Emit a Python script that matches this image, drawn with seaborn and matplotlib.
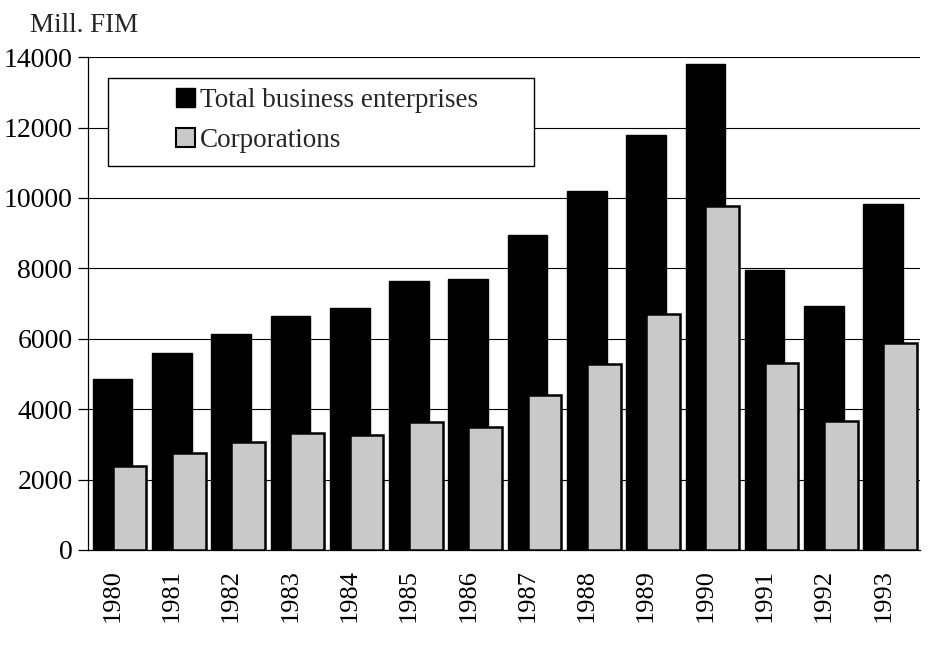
import numpy as np
import pandas as pd
import matplotlib
matplotlib.use("Agg")
import matplotlib.pyplot as plt
from matplotlib.patches import Rectangle, Patch
import seaborn as sns

years = ["1980", "1981", "1982", "1983", "1984", "1985", "1986",
         "1987", "1988", "1989", "1990", "1991", "1992", "1993"]
total_business = [4850, 5600, 6130, 6650, 6870, 7650, 7700,
                  8940, 10200, 11790, 13800, 7960, 6920, 9830]
corporations = [2370, 2750, 3060, 3330, 3260, 3640, 3490,
                4410, 5270, 6690, 9760, 5310, 3670, 5890]
y_ticks = [0, 2000, 4000, 6000, 8000, 10000, 12000, 14000]

sns.set_theme(style="white")
plt.rcParams["font.family"] = ["Liberation Serif", "DejaVu Serif"]

fig = plt.figure(figsize=(9.33, 6.5), dpi=100)
ax = fig.add_axes([0.094, 0.154, 0.892, 0.758])

idx = np.arange(len(years), dtype=float)
df_tot = pd.DataFrame({"pos": idx, "val": total_business})
df_cor = pd.DataFrame({"pos": idx + 0.285, "val": corporations})

sns.barplot(data=df_tot, x="pos", y="val", native_scale=True, width=0.67,
            color="black", edgecolor="black", linewidth=1.0, saturation=1,
            ax=ax, zorder=3)
sns.barplot(data=df_cor, x="pos", y="val", native_scale=True, width=0.57,
            color="#c9c9c9", edgecolor="black", linewidth=1.8, saturation=1,
            ax=ax, zorder=4)

ax.set_xlim(-0.42, 13.62)
ax.set_ylim(0, 14000)
ax.set_yticks(y_ticks)
ax.set_yticklabels([str(v) for v in y_ticks], fontsize=20)
ax.set_xticks(idx)
ax.set_xticklabels(years, rotation=90, fontsize=19)
ax.set_xlabel("")
ax.set_ylabel("")

ax.yaxis.grid(True, color="black", linewidth=0.8, zorder=0)
ax.xaxis.grid(False)
ax.set_axisbelow(True)
for s in ["top", "right"]:
    ax.spines[s].set_visible(False)
for s in ["left", "bottom"]:
    ax.spines[s].set_color("black")
    ax.spines[s].set_linewidth(0.9)
ax.tick_params(axis="y", which="both", left=True, length=7, width=0.9,
               color="black", direction="out", pad=4, labelcolor="black")
ax.tick_params(axis="x", which="both", bottom=False, pad=8, labelcolor="black")

# legend frame
ax.add_patch(Rectangle((0.024, 0.78), 0.512, 0.177, transform=ax.transAxes,
                       facecolor="white", edgecolor="black", linewidth=1.0,
                       zorder=5))
handles = [Patch(facecolor="black", edgecolor="black", label="Total business enterprises"),
           Patch(facecolor="#c9c9c9", edgecolor="black", linewidth=1.5, label="Corporations")]
leg = ax.legend(handles=handles, loc="upper left", bbox_to_anchor=(0.093, 0.96),
                frameon=False, fontsize=19.5, handlelength=0.7, handleheight=0.7,
                handletextpad=0.2, labelspacing=0.55, borderaxespad=0)
leg.set_zorder(6)

fig.text(0.032, 0.96, "Mill. FIM", fontsize=19.5, ha="left", va="center")

fig.savefig("out.png", dpi=100)
